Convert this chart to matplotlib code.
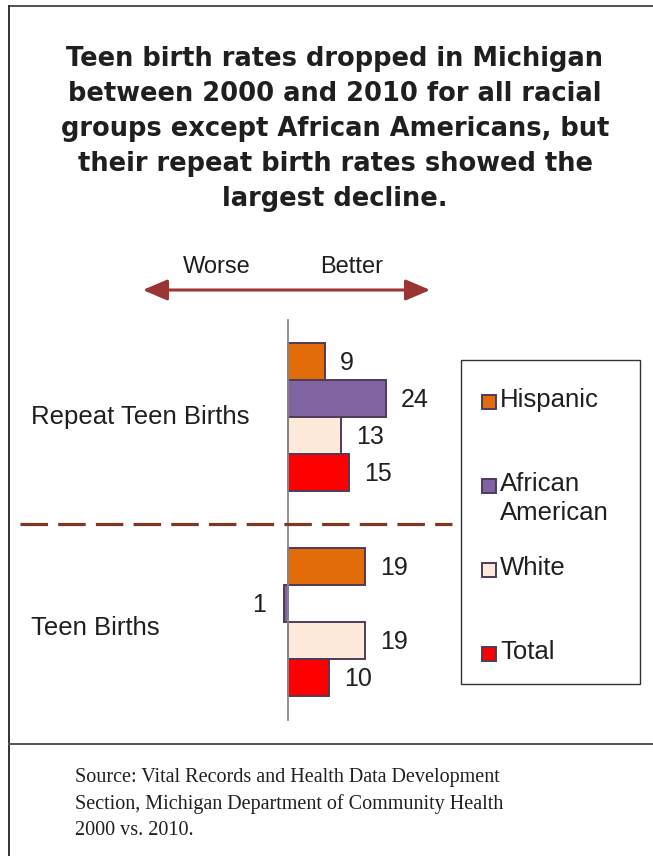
import matplotlib.pyplot as plt
from matplotlib.lines import Line2D
from matplotlib.patches import Rectangle, FancyArrowPatch

# Data: decline (2000 -> 2010) in birth rates by group
categories = ['Repeat Teen Births', 'Teen Births']
groups = ['Hispanic', 'African American', 'White', 'Total']
repeat_values = [9, 24, 13, 15]
teen_values = [19, -1, 19, 10]
colors = ['#E36C0A', '#8064A2', '#FDE9D9', '#FF0000']
edge = '#4E3B58'
text_color = '#1f1f1f'

title = ('Teen birth rates dropped in Michigan\n'
         'between 2000 and 2010 for all racial\n'
         'groups except African Americans, but\n'
         'their repeat birth rates showed the\n'
         'largest decline.')
source = ('Source: Vital Records and Health Data Development\n'
          'Section, Michigan Department of Community Health\n'
          '2000 vs. 2010.')

W, H = 653, 856


def fx(px):
    return px / W


def fy(py):
    return 1 - py / H


fig = plt.figure(figsize=(6.53, 8.56), dpi=100)
fig.patch.set_facecolor('white')

# outer frame and separator
fig.add_artist(Line2D([fx(8.5), fx(8.5)], [fy(6), 0], transform=fig.transFigure,
                      color='#333333', lw=1.4))
fig.add_artist(Line2D([fx(8.5), 1], [fy(6), fy(6)], transform=fig.transFigure,
                      color='#333333', lw=1.2))
fig.add_artist(Line2D([fx(8.5), 1], [fy(744), fy(744)], transform=fig.transFigure,
                      color='#555555', lw=1.4))

# title
fig.text(fx(335), fy(129), title, ha='center', va='center', fontsize=18.5,
         fontweight='bold', family='DejaVu Sans', color=text_color, linespacing=1.45)

# worse / better arrow
fig.text(fx(217), fy(267), 'Worse', ha='center', va='center', fontsize=17,
         family='Liberation Sans', color=text_color)
fig.text(fx(352), fy(267), 'Better', ha='center', va='center', fontsize=17,
         family='Liberation Sans', color=text_color)
fig.add_artist(FancyArrowPatch((fx(140), fy(290)), (fx(433), fy(290)),
                               transform=fig.transFigure,
                               arrowstyle='<|-|>,head_length=0.75,head_width=0.32',
                               mutation_scale=20, color='#9B3535', lw=2.2))

# bar chart
ax = fig.add_axes([fx(278), fy(720), (460 - 278) / W, 400 / H])
px_per_unit = 4.07
ax.set_xlim(-(288 - 278) / px_per_unit, (460 - 288) / px_per_unit)
ax.set_ylim(400 / 37, 0)

group_centers = [(417 - 320) / 37, (622 - 320) / 37]
offsets = [-1.5, -0.5, 0.5, 1.5]
for gc, vals in zip(group_centers, [repeat_values, teen_values]):
    for off, v, c in zip(offsets, vals, colors):
        y = gc + off
        ax.barh(y, v, height=1.0, color=c, edgecolor=edge, linewidth=1.4, zorder=3)
        if v >= 0:
            ax.annotate(str(abs(v)), (v, y), xytext=(11, -1), textcoords='offset points',
                        ha='left', va='center', fontsize=18, family='Liberation Sans',
                        color=text_color, annotation_clip=False)
        else:
            ax.annotate(str(abs(v)), (v, y), xytext=(-13, -1), textcoords='offset points',
                        ha='right', va='center', fontsize=18, family='Liberation Sans',
                        color=text_color, annotation_clip=False)

for s in ['top', 'right', 'bottom']:
    ax.spines[s].set_visible(False)
ax.spines['left'].set_position(('data', 0))
ax.spines['left'].set_color('#8a8a8a')
ax.spines['left'].set_linewidth(1.3)
ax.spines['left'].set_zorder(4)
ax.set_xticks([])
ax.set_yticks([])
ax.patch.set_alpha(0)

# category labels
fig.text(fx(31), fy(417), categories[0], ha='left', va='center', fontsize=18.5,
         family='Liberation Sans', color=text_color)
fig.text(fx(31), fy(628), categories[1], ha='left', va='center', fontsize=18.5,
         family='Liberation Sans', color=text_color)

# dashed separator between groups
fig.add_artist(Line2D([fx(20), fx(452)], [fy(524), fy(524)], transform=fig.transFigure,
                      color='#7A3A22', lw=2.3, dashes=(8.6, 3.2), dash_capstyle='butt'))

# legend (drawn by hand to match spacing)
fig.add_artist(Rectangle((fx(461), fy(684)), (640 - 461) / W, (684 - 360) / H,
                         transform=fig.transFigure, facecolor='white',
                         edgecolor='#333333', lw=1.0))
legend_labels = ['Hispanic', 'African\nAmerican', 'White', 'Total']
for i, (lab, c) in enumerate(zip(legend_labels, colors)):
    yc = 402 + 84 * i
    fig.add_artist(Rectangle((fx(482), fy(yc + 7)), 14 / W, 14 / H,
                             transform=fig.transFigure, facecolor=c,
                             edgecolor=edge, lw=1.4))
    fig.text(fx(500), fy(yc - 14), lab, ha='left', va='top', fontsize=18.5,
             family='Liberation Sans', color=text_color, linespacing=1.25)

# source note
fig.text(fx(75), fy(804), source, ha='left', va='center', fontsize=14.5,
         family='Liberation Serif', color=text_color, linespacing=1.5)

fig.savefig('out.png', dpi=100, facecolor='white')
